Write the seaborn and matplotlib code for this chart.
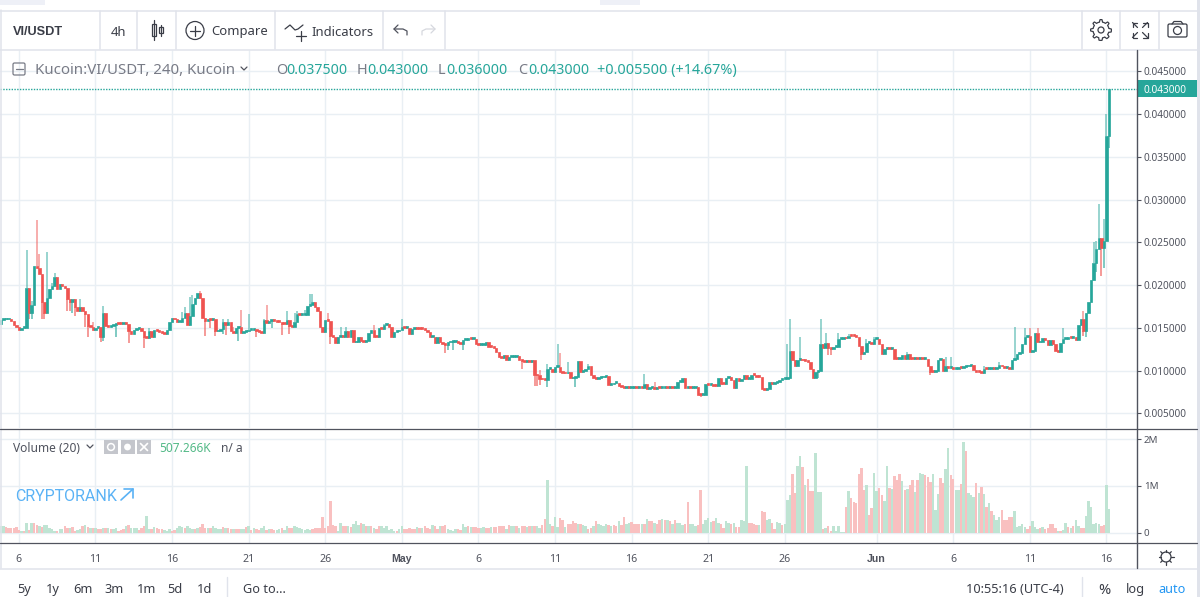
import numpy as np
import pandas as pd
import matplotlib
matplotlib.use("Agg")
import matplotlib.pyplot as plt
from matplotlib.patches import Circle, Rectangle, Polygon, FancyBboxPatch
import seaborn as sns

# Closing prices of the 4h bars, in thousandths of a USDT
close_milli = [
    15.9,16.0,16.0,16.05,15.8,15.3,15.1,14.8,15.0,15.05,
    19.7,16.8,17.7,22.3,22.0,21.3,18.0,16.7,18.5,19.6,
    19.9,21.0,19.6,20.2,19.9,19.7,18.4,18.0,18.4,17.4,
    17.0,17.4,17.0,16.6,15.2,15.1,14.8,15.0,15.1,14.0,
    16.8,15.2,15.15,15.2,15.4,15.6,15.5,15.45,15.5,15.45,
    14.6,14.3,14.8,14.9,14.95,14.6,13.9,13.85,14.6,13.98,
    14.8,14.7,14.5,14.4,14.3,14.8,15.7,16.2,16.0,15.7,
    15.75,16.2,16.8,15.3,16.4,17.8,18.5,19.1,18.5,16.2,
    15.8,16.0,15.95,16.1,14.6,14.7,14.9,15.7,15.4,15.7,
    14.7,14.4,15.0,15.1,14.4,14.5,14.6,14.8,14.8,14.85,
    14.6,14.5,14.45,15.9,15.6,15.8,15.85,15.8,15.75,15.7,
    15.5,15.45,15.9,15.2,15.1,15.7,16.6,16.5,16.55,16.55,
    17.6,17.65,18.0,17.5,17.0,15.1,14.5,15.9,15.85,14.1,
    13.9,13.2,14.0,14.05,13.9,14.6,13.9,14.8,13.3,13.4,
    13.9,13.5,13.4,13.45,14.4,14.8,14.0,13.95,15.0,14.9,
    15.4,15.45,15.1,13.9,14.5,14.6,14.8,15.1,15.0,15.05,
    14.3,14.9,14.9,14.88,14.86,14.84,14.82,14.5,14.0,14.0,
    13.2,14.0,13.3,13.1,13.05,13.3,13.32,13.34,13.5,13.2,
    13.15,13.6,13.62,13.8,13.7,13.72,13.1,13.0,13.02,13.04,
    13.3,12.8,12.78,12.7,12.2,11.6,11.5,11.8,11.2,11.6,
    11.62,11.64,11.7,11.2,11.18,11.0,11.02,10.98,11.2,9.5,
    9.45,9.0,8.98,8.96,10.2,10.25,9.8,10.4,10.42,9.9,
    9.7,9.68,9.8,9.1,9.2,9.3,11.1,9.85,10.0,10.2,
    10.5,9.5,9.1,9.08,9.2,9.22,9.3,9.35,8.3,8.4,
    8.6,8.62,8.2,8.15,8.0,8.02,7.98,8.0,8.02,8.0,
    8.02,7.98,8.4,7.9,8.0,8.02,7.9,7.98,7.96,8.0,
    8.02,8.0,8.02,7.94,8.0,8.7,8.72,9.1,8.0,8.02,
    8.0,8.02,8.04,7.2,7.15,7.17,8.4,8.3,8.32,8.2,
    8.18,9.1,8.5,8.48,9.2,9.22,8.9,8.0,9.2,8.8,
    9.0,9.5,9.0,9.02,9.5,9.48,9.3,9.28,7.9,7.8,
    7.9,8.7,8.5,8.6,8.7,8.9,9.0,9.05,9.2,12.3,
    11.3,10.5,11.3,11.32,11.2,11.1,11.0,10.2,9.2,9.9,
    10.0,13.1,12.6,13.2,12.6,12.58,12.8,12.82,13.7,13.72,
    13.8,13.78,14.1,14.08,14.06,14.0,12.9,12.0,12.2,13.2,
    13.22,13.1,13.7,13.72,13.1,12.0,12.5,12.52,12.5,12.52,
    11.4,11.38,11.4,11.8,11.4,11.9,11.4,11.38,11.4,11.38,
    11.4,11.38,11.4,10.5,9.85,9.83,10.0,11.3,11.32,10.0,
    10.5,10.3,10.4,10.2,10.22,10.3,10.28,10.4,10.5,10.6,
    10.7,10.1,9.85,9.83,9.7,10.2,10.18,10.2,10.22,10.2,
    10.3,10.7,10.5,10.3,10.4,10.2,11.3,11.32,12.0,12.02,
    13.1,14.0,14.02,12.2,12.3,14.4,13.3,13.4,13.8,13.6,
    13.0,13.6,13.1,12.3,12.2,13.2,13.7,13.72,13.9,13.8,
    13.9,13.6,15.3,16.0,14.7,16.8,18.0,20.6,22.6,24.2,
    25.5,24.3,25.2,37.5,43.0,
]
first_open_milli = 15.5

# Bars whose wick runs clear of the body, bar number -> price in thousandths
high_milli = {
    10:24.1,12:18.2,14:27.6,15:23.6,18:23.9,20:20.3,21:21.4,31:18.4,36:15.7,40:17.6,
    58:15.0,71:16.9,72:17.5,74:18.6,75:18.8,78:19.3,87:16.0,89:16.0,91:15.1,94:17.1,
    97:16.6,103:16.0,104:17.7,112:17.0,115:16.7,116:17.0,119:17.1,121:19.0,122:19.0,
    128:16.8,133:15.1,135:15.1,146:15.3,150:15.5,157:16.0,211:10.1,214:10.8,218:13.1,
    219:12.1,222:11.0,230:10.8,252:9.6,256:8.7,308:13.1,309:16.0,313:13.9,321:16.0,
    323:14.4,328:14.4,332:14.3,339:13.7,342:13.9,355:12.2,370:11.6,372:11.6,385:10.5,
    391:11.0,397:15.1,401:15.0,403:15.0,406:15.0,416:15.0,424:17.0,428:25.0,429:25.2,
    430:29.5,432:27.8,433:40.0,
}
low_milli = {
    0:15.3,11:16.05,12:16.05,16:16.0,17:16.0,26:17.0,27:17.0,28:16.8,29:16.4,33:15.1,
    34:14.0,39:13.4,40:13.5,45:13.9,50:13.2,56:12.7,80:14.1,82:15.0,84:14.1,87:14.3,
    88:14.2,93:13.5,100:13.9,106:15.0,110:14.2,113:14.3,129:13.1,174:12.05,175:12.4,
    177:12.4,181:12.4,204:10.2,209:8.2,210:8.2,211:8.3,214:8.1,225:8.1,274:6.9,
    320:9.1,324:11.8,325:11.8,337:11.3,364:9.5,424:14.1,425:14.0,429:21.5,431:21.1,
    432:22.0,434:36.0,
}

# Traded volume in thousands; the sign tells a rising bar from a falling one
volume_k = [
    140,140,-126,-105,-105,-105,-126,-56,35,-42,
    210,-56,210,-210,-175,140,-126,175,175,105,
    84,35,-35,84,70,-154,-105,105,-126,-35,
    56,84,-154,175,-126,105,-105,105,-84,-84,
    105,-105,105,-84,84,105,-42,-56,-70,154,
    -175,105,105,105,-56,-105,-154,364,70,-84,
    126,-105,-84,-70,56,35,70,-42,-56,105,
    140,126,-105,140,105,70,-70,105,-126,-196,
    -105,105,-105,154,105,84,70,-126,105,-105,
    -84,84,-70,-84,84,84,-126,140,-56,105,
    -84,-56,105,140,-56,70,-70,-56,56,84,
    -105,56,140,-105,-105,140,126,105,70,56,
    70,56,-84,-105,-105,-105,-329,-105,-140,-686,
    -175,-140,42,210,-154,-140,154,-126,196,245,
    175,-210,196,-140,154,-140,105,-84,-140,140,
    105,140,56,70,28,-35,70,154,-70,-70,
    -105,-70,-84,126,-105,105,-140,-105,-84,175,
    -154,-70,154,-140,-175,84,56,42,84,-84,
    -56,196,126,-140,126,-112,-112,-105,105,126,
    -105,-105,112,-126,-126,-140,-154,-140,70,-175,
    140,140,-140,105,-154,-154,126,-140,154,-154,
    140,105,-175,-294,1120,196,-154,336,126,-315,
    -266,126,-196,-196,-245,-210,196,-196,175,154,
    -84,-105,154,-245,196,175,154,196,-175,140,
    -175,-154,245,-175,-336,196,210,-231,-196,-196,
    -196,196,-196,294,-245,-245,210,-196,-280,294,
    -266,266,-245,196,-266,210,210,175,-196,-665,
    196,196,154,-175,-910,196,266,315,224,-245,
    315,210,-196,-105,245,210,-196,210,-126,-126,
    280,245,1421,-210,-210,-196,-175,175,-455,-434,
    266,294,-210,-84,224,210,-175,196,700,805,
    -1246,-840,1435,1645,-1400,1015,-1155,-896,-896,1715,
    875,875,-84,98,-140,-35,154,35,140,14,
    14,-560,896,-735,-665,-630,-1260,-1379,-910,1015,
    -385,-525,1274,896,-966,-805,686,1435,-966,945,
    -1204,-1120,-1260,1106,-910,945,-1015,-1120,875,-1120,
    1274,1246,-1225,-1190,-1085,1260,490,826,-1176,-1064,
    1365,1820,-1225,-1155,910,910,-1050,1946,-1750,840,
    805,770,-1064,840,-980,826,-560,644,-455,385,
    280,336,-490,-266,-280,-336,-336,455,126,140,
    196,126,-84,-154,245,126,84,-105,126,-70,
    -105,-196,-196,-105,28,-35,56,210,-126,98,
    -154,280,154,-105,-105,350,686,546,196,210,
    196,-154,-175,1015,507.266,
]

price_ticks = [0.005, 0.010, 0.015, 0.020, 0.025, 0.030, 0.035, 0.040, 0.045]
volume_ticks = [0, 1e6, 2e6]
volume_tick_labels = ["0", "1M", "2M"]
# Date axis: first bar number of each labelled day and what it reads
day_tick_bars = [7, 37, 67, 97, 127, 157, 187, 217, 247, 277, 307, 343, 373, 403, 433]
day_tick_labels = ["6", "11", "16", "21", "26", "May", "6", "11", "16", "21", "26", "Jun", "6", "11", "16"]

GREEN, RED = "#26a69a", "#ef5350"
VOL_UP, VOL_DOWN = "#bfe4d3", "#f9c0c0"
GRID, BORDER, INK, AXIS = "#e9eff4", "#e0e3eb", "#50535e", "#50535e"

sns.set_theme(style="white")
plt.rcParams["font.family"] = ["Noto Sans", "DejaVu Sans"]

closes = np.array(close_milli) / 1000
opens = np.r_[first_open_milli / 1000, closes[:-1]]
bars = np.arange(len(closes))
rising = closes >= opens
candle_colors = np.where(rising, GREEN, RED)

W, H = 1200, 597
fig = plt.figure(figsize=(W / 100, H / 100), dpi=100, facecolor="white")


def axes_px(left, top, right, bottom):
    return fig.add_axes([left / W, 1 - bottom / H, (right - left) / W, (bottom - top) / H])


ax = axes_px(0, 50, 1137, 428)
vol_ax = axes_px(0, 429, 1137, 542.7)
x_range = (-0.39, 444.96)

# Price pane: wicks first, bodies over them
for axis in (ax, vol_ax):
    axis.set_axisbelow(True)
    axis.vlines(day_tick_bars, 0, 1, transform=axis.get_xaxis_transform(), color=GRID, lw=1.0, zorder=0)

for i, hi in high_milli.items():
    ax.vlines(i, max(opens[i], closes[i]), hi / 1000, color=candle_colors[i], lw=1.1, alpha=0.6, zorder=2)
for i, lo in low_milli.items():
    ax.vlines(i, lo / 1000, min(opens[i], closes[i]), color=candle_colors[i], lw=1.1, alpha=0.75, zorder=2)

body_height = np.maximum(np.abs(closes - opens), 0.00022)
ax.bar(bars, body_height, bottom=np.minimum(opens, closes), width=0.95, color=candle_colors,
       edgecolor=candle_colors, linewidth=0.5, zorder=3)

ax.axhline(closes[-1], color=GREEN, lw=1.0, ls=(0, (1, 1)), zorder=4)
ax.set_xlim(*x_range)
ax.set_ylim(0.0033, 0.04751)
ax.set_yticks(price_ticks)
ax.set_yticklabels([f"{p:.6f}" for p in price_ticks])
ax.yaxis.tick_right()
ax.set_xticks([])
ax.grid(axis="y", color=GRID, lw=1.0)
ax.tick_params(axis="y", length=3, width=0.8, color=AXIS, labelcolor=INK, labelsize=7.2, pad=2)
sns.despine(ax=ax, left=True, bottom=True, top=True, right=True)

# Volume pane
vol_frame = pd.DataFrame({
    "bar": bars,
    "volume": np.abs(volume_k) * 1000.0,
    "direction": np.where(np.array(volume_k) >= 0, "up", "down"),
})
sns.barplot(data=vol_frame, x="bar", y="volume", hue="direction", native_scale=True,
            palette={"up": VOL_UP, "down": VOL_DOWN}, dodge=False, width=0.95, saturation=1,
            linewidth=0, legend=False, ax=vol_ax, zorder=3)
vol_ax.set_xlim(*x_range)
vol_ax.set_ylim(-0.214e6, 2.22e6)
vol_ax.set_xlabel("")
vol_ax.set_ylabel("")
vol_ax.set_yticks(volume_ticks)
vol_ax.set_yticklabels(volume_tick_labels)
vol_ax.yaxis.tick_right()
vol_ax.grid(axis="y", color=GRID, lw=1.0)
vol_ax.tick_params(axis="y", length=3, width=0.8, color=AXIS, labelcolor=INK, labelsize=7.0, pad=2)
vol_ax.set_xticks(day_tick_bars)
vol_ax.set_xticklabels(day_tick_labels)
vol_ax.tick_params(axis="x", length=3, width=0.8, color=AXIS, labelcolor=INK, labelsize=7.6, pad=5)
for tick_text in vol_ax.get_xticklabels():
    if tick_text.get_text() in ("May", "Jun"):
        tick_text.set_fontweight("bold")
        tick_text.set_family("Liberation Sans")
sns.despine(ax=vol_ax, left=True, top=True, right=True, bottom=True)

# Toolbars, legends and frame sit on a sheet measured in image pixels
ui = fig.add_axes([0, 0, 1, 1], zorder=10)
ui.set_xlim(0, W)
ui.set_ylim(H, 0)
ui.axis("off")
ui.patch.set_alpha(0)


def line(xs, ys, color=INK, lw=1.0, **kw):
    ui.plot(xs, ys, color=color, lw=lw, solid_capstyle="round", **kw)


def label(x, y, s, color="#3a3d47", size=9.4, weight="normal", ha="left", family=None):
    ui.text(x, y, s, color=color, fontsize=size, fontweight=weight, ha=ha, va="center_baseline", family=family)


# Frame
ui.add_patch(Rectangle((1197, 0), 3, H, color=BORDER, lw=0))
ui.add_patch(Rectangle((0, 0), 45, 5, color="#eef0f7", lw=0))
ui.add_patch(Rectangle((600, 0), 40, 5, color="#eef0f7", lw=0))
line([0, 1197], [10.5, 10.5], BORDER, 1.1)
line([0, 1197], [49.5, 49.5], BORDER, 1.1)
line([0, 1197], [568.5, 568.5], BORDER, 1.1)
line([0.5, 0.5], [10, 568], BORDER, 1.1)
for x in (100, 137, 176, 275, 383, 445, 1082, 1120, 1159):
    line([x, x], [11, 49], BORDER, 1.1)
for x in (227, 1082):
    line([x, x], [577, 597], BORDER, 1.0)
line([1137, 1137], [50, 568], AXIS, 1.0)
line([0, 1197], [428.5, 428.5], AXIS, 0.9)
line([0, 1197], [542.7, 542.7], AXIS, 0.9)

# Top toolbar
label(13, 30.5, "VI/USDT", weight="bold", size=9.2, family="Liberation Sans")
label(111, 30.5, "4h")
line([153.5, 153.5], [20, 40], "#3a3d47", 0.9)
ui.add_patch(Rectangle((151.5, 24), 4, 12, fill=False, ec="#3a3d47", lw=0.9))
line([161, 161], [25, 36], "#3a3d47", 0.9)
ui.add_patch(Rectangle((159, 27), 4, 6, fill=False, ec="#3a3d47", lw=0.9))
ui.add_patch(Circle((195, 30.5), 9, fill=False, ec="#3a3d47", lw=0.9))
line([190, 200], [30.5, 30.5], "#3a3d47", 0.9)
line([195, 195], [25.5, 35.5], "#3a3d47", 0.9)
label(211, 30.5, "Compare")
line([285, 290, 295, 298, 303], [29, 25, 30, 29, 25], "#3a3d47", 0.9)
line([296, 306], [36, 36], "#3a3d47", 0.9)
line([301, 301], [31, 41], "#3a3d47", 0.9)
label(311, 30.5, "Indicators")
for arrow_color, tip, end, bend, head in (("#50535e", 394, 407, 403, 398), ("#d6d8de", 435, 422, 426, 431)):
    line([tip, bend, end, end], [29, 29, 31, 35], arrow_color, 0.9)
    line([head, tip, head], [25, 29, 33], arrow_color, 0.9)

theta = np.linspace(0, 2 * np.pi, 65)
gear_r = 9.2 + 1.2 * np.sign(np.cos(8 * theta))
ui.add_patch(Polygon(np.c_[1101 + gear_r * np.cos(theta), 30 + gear_r * np.sin(theta)], fill=False, ec="#3a3d47", lw=0.9))
ui.add_patch(Circle((1101, 30), 3, fill=False, ec="#3a3d47", lw=0.9))
for sx, sy in ((-1, -1), (1, -1), (-1, 1), (1, 1)):
    cx, cy = 1140 + sx * 7.5, 30 + sy * 7.5
    line([cx - sx * 4.5, cx, cx], [cy, cy, cy - sy * 4.5], "#3a3d47", 0.9)
    line([cx, cx - sx * 5], [cy, cy - sy * 5], "#3a3d47", 0.9)
ui.add_patch(FancyBboxPatch((1168, 24), 19, 13, boxstyle="round,pad=0,rounding_size=1.5", fill=False, ec="#3a3d47", lw=0.9))
line([1172, 1174, 1181, 1183], [24, 21.5, 21.5, 24], "#3a3d47", 0.9)
ui.add_patch(Circle((1177.5, 30.5), 4, fill=False, ec="#3a3d47", lw=0.9))

# Price pane legend
ui.add_patch(FancyBboxPatch((13, 63), 12, 12, boxstyle="round,pad=0,rounding_size=1.5", fill=False, ec="#787b86", lw=0.9))
line([15.5, 22.5], [69, 69], "#787b86", 0.9)
label(35, 68.5, "Kucoin:VI/USDT, 240, Kucoin", color="#787b86", size=10.8)
line([241, 244, 247], [67, 70, 67], "#50535e", 0.9)
LEGEND_GREEN = "#26a69a"
for x_key, key, x_val, val in ((276, "O", 286, "0.037500"), (357, "H", 367, "0.043000"),
                               (438, "L", 446, "0.036000"), (518, "C", 528, "0.043000")):
    label(x_key, 68.5, key, color="#787b86", size=10.4)
    label(x_val, 68.5, val, color=LEGEND_GREEN, size=10.2)
label(597, 68.5, "+0.005500 (+14.67%)", color=LEGEND_GREEN, size=10.4)

# Last price flag
ui.add_patch(Rectangle((1137, 80), 60, 17, color=GREEN, lw=0))
label(1144, 88.8, "0.043000", color="#ffffff", size=7.2)

# Volume pane legend
label(13, 447.5, "Volume (20)", color="#50535e", size=8.6)
line([87, 90, 93], [445, 448, 445], "#50535e", 0.9)
for x in (104, 120.5, 137):
    ui.add_patch(Rectangle((x, 440), 14, 14, color="#c4c6cc", lw=0))
ui.add_patch(Circle((111, 447), 3.4, fill=False, ec="white", lw=1.1))
ui.add_patch(Circle((127.5, 447), 3.4, color="white", lw=0))
line([140.5, 147.5], [443.5, 450.5], "white", 1.2)
line([140.5, 147.5], [450.5, 443.5], "white", 1.2)
label(159, 447.5, "507.266K", color="#53b987", size=8.6)
label(221, 447.5, "n/ a", color="#50535e", size=8.6)
label(15, 495, "CRYPTORANK", color="#5ab2f5", size=11.5, family="Roboto")
line([121, 133], [500, 489], "#5ab2f5", 1.2)
line([124, 133, 133], [489, 489, 498], "#5ab2f5", 1.2)

# Settings sun in the axis corner
ui.add_patch(Circle((1166, 557), 5, fill=False, ec="#3a3d47", lw=0.9))
for a in np.arange(8) * np.pi / 4:
    line([1166 + 5 * np.cos(a), 1166 + 7.5 * np.cos(a)], [557 + 5 * np.sin(a), 557 + 7.5 * np.sin(a)], "#3a3d47", 0.9)

# Bottom bar
for x, s in ((17, "5y"), (46, "1y"), (73, "6m"), (104, "3m"), (137, "1m"), (167, "5d"), (197, "1d"), (243, "Go to...")):
    label(x, 588, s, size=9.2)
label(966, 588, "10:55:16 (UTC-4)", size=9.2)
label(1098, 588, "%", size=10.5)
label(1126, 588, "log", size=9.2)
label(1158, 588, "auto", color="#2196f3", size=9.2)

fig.savefig("out.png", dpi=100)
